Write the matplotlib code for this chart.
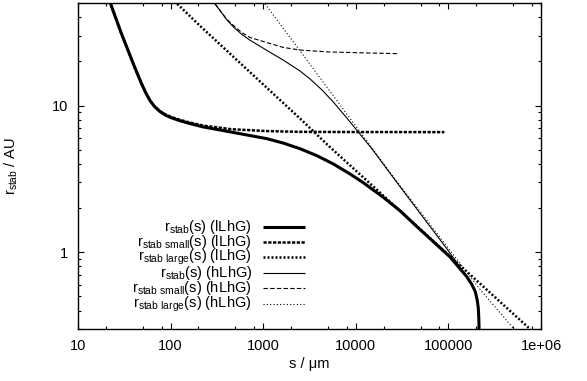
import numpy as np
import matplotlib as mpl
mpl.use("agg")
import matplotlib.pyplot as plt
from matplotlib.ticker import LogLocator, NullFormatter

plt.rcParams["font.family"] = ["Liberation Sans", "DejaVu Sans"]
plt.rcParams["mathtext.default"] = "regular"
plt.rcParams["font.size"] = 10.5

# values (s in micron, r_stab in AU)
s_l = [22.5, 29.4, 41.0, 48.3, 54, 60, 67, 76, 88, 102, 125, 154, 225, 450,
       1091, 1648, 2497, 3785, 5715, 8650, 12050, 19800, 30000, 45470, 104000,
       157700, 180000, 195000, 205000, 210000, 212500, 214000, 214500]
r_l = [49.3, 31.0, 18.2, 14.2, 12.2, 10.8, 9.85, 9.15, 8.6, 8.25, 7.9, 7.6, 7.15, 6.6,
       5.95, 5.55, 5.08, 4.56, 4.0, 3.42, 2.98, 2.37, 1.92, 1.50, 0.93,
       0.683, 0.60, 0.54, 0.47, 0.42, 0.37, 0.32, 0.25]

s_l_small = [22.5, 29.4, 41.0, 48.3, 54, 60, 67, 76, 88, 102, 125, 154, 225,
             450, 1091, 2497, 10000, 90400]
r_l_small = [49.3, 31.0, 18.2, 14.2, 12.2, 10.8, 9.9, 9.2, 8.7, 8.35, 8.0, 7.72, 7.3,
             6.9, 6.7, 6.62, 6.6, 6.59]

s_l_large = [118, 208, 2497, 5260, 238000, 760000]
r_l_large = [49.3, 34.9, 8.16, 5.21, 0.584, 0.30]

s_h = [302, 341, 404, 475, 586, 719, 1091, 1648, 2497, 3200, 4300, 5700,
       7600, 10640, 15000, 27670, 63270, 95900, 157700, 180000, 195000,
       205000, 210000, 212500, 214000, 214500]
r_h = [49.3, 44.5, 38.5, 34.4, 30.6, 27.9, 23.8, 20.4, 17.2, 15.2, 12.8, 10.6,
       8.55, 6.6, 5.05, 3.0, 1.5, 1.06, 0.683, 0.60, 0.54,
       0.47, 0.42, 0.37, 0.32, 0.25]

s_h_small = [302, 341, 404, 480, 586, 719, 900, 1091, 1648, 2497, 5050, 14220, 28000]
r_h_small = [49.3, 44.5, 38.8, 35.0, 31.5, 29.1, 27.9, 26.9, 24.9, 23.9, 23.2, 22.8, 22.6]

s_h_large = [1045, 2497, 10640, 27670, 63270, 95900, 219000, 510000]
r_h_large = [49.3, 23.6, 6.87, 3.05, 1.55, 1.1, 0.56, 0.30]

labels = ["r$_{stab}$(s) (lLhG)", "r$_{stab\\ small}$(s) (lLhG)",
          "r$_{stab\\ large}$(s) (lLhG)", "r$_{stab}$(s) (hLhG)",
          "r$_{stab\\ small}$(s) (hLhG)", "r$_{stab\\ large}$(s) (hLhG)"]

xticks = [10, 100, 1000, 10000, 100000, 1000000]
xticklabels = ["10", "100", "1000", "10000", "100000", "1e+06"]
yticks = [1, 10]
yticklabels = ["1", "10"]

styles = [dict(lw=2.2, ls="-"),
          dict(lw=1.8, ls=(0, (1.3, 0.6))),
          dict(lw=1.8, ls=(0, (0.8, 0.8))),
          dict(lw=0.8, ls="-"),
          dict(lw=0.8, ls=(0, (4, 2))),
          dict(lw=0.8, ls=(0, (1, 2)))]
series = [(s_l, r_l), (s_l_small, r_l_small), (s_l_large, r_l_large),
          (s_h, r_h), (s_h_small, r_h_small), (s_h_large, r_h_large)]

fig = plt.figure(figsize=(5.87, 3.81), dpi=100)
ax = fig.add_axes([78/587, 52/381, 463/587, 326/381])

for (s, r), st in zip(series, styles):
    ax.plot(s, r, color="black", solid_capstyle="butt", dash_capstyle="butt",
            solid_joinstyle="round", **st)

ax.set_xscale("log")
ax.set_yscale("log")
ax.set_xlim(10, 1e6)
ax.set_ylim(0.3, 50)

ax.set_xticks(xticks)
ax.set_xticklabels(xticklabels)
ax.set_yticks(yticks)
ax.set_yticklabels(yticklabels)
ax.xaxis.set_minor_locator(LogLocator(base=10, subs=(2, 5, 8)))
ax.yaxis.set_minor_locator(LogLocator(base=10, subs=np.arange(2, 10)))
ax.xaxis.set_minor_formatter(NullFormatter())
ax.yaxis.set_minor_formatter(NullFormatter())
ax.tick_params(which="both", direction="in", top=True, right=True, width=0.8)
ax.tick_params(which="major", length=4.3, pad=7)
ax.tick_params(which="minor", length=2.5)
for sp in ax.spines.values():
    sp.set_linewidth(1.0)

ax.set_xlabel("s / \u03bcm")
ax.set_ylabel("r$_{stab}$ / AU")
ax.xaxis.set_label_coords(0.5, -0.085)
ax.yaxis.set_label_coords(-0.125, 0.5)

# legend drawn by hand: right aligned text, sample line on the right
rows = [0.3138, 0.2669, 0.2200, 0.1709, 0.1249, 0.0767]
for lab, st, yy in zip(labels, styles, rows):
    ax.text(0.3758, yy, lab, transform=ax.transAxes, ha="right", va="center")
    ax.plot([0.3996, 0.4903], [yy, yy], transform=ax.transAxes, color="black",
            solid_capstyle="butt", dash_capstyle="butt", **st)

fig.savefig("out.png", dpi=100)
